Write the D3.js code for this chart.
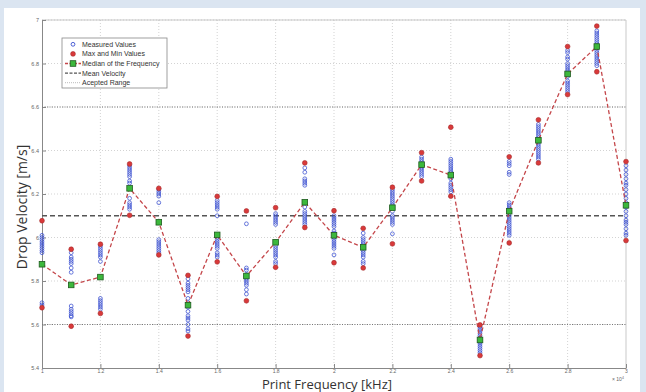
<!DOCTYPE html>
<html>
<head>
<meta charset="utf-8">
<script src="https://cdn.jsdelivr.net/npm/d3@7"></script>
<style>
  body { margin: 0; background: #dbe5f1; }
  svg { display: block; font-family: "Liberation Sans", Arial, sans-serif; }
  .tick text { fill: #666; font-size: 5.5px; }
  .axis path, .axis line { stroke: #888; }
  .axis--x .tick text { font-size: 5px; }
</style>
</head>
<body>
<svg width="646" height="392"></svg>
<script>
// frequency in units of 1e4 Hz
var frequencies = [1.0, 1.1, 1.2, 1.3, 1.4, 1.5, 1.6, 1.7, 1.8, 1.9, 2.0, 2.1, 2.2, 2.3, 2.4, 2.5, 2.6, 2.7, 2.8, 2.9, 3.0];
var medians = [5.877, 5.782, 5.818, 6.226, 6.07, 5.689, 6.012, 5.823, 5.978, 6.162, 6.01, 5.955, 6.137, 6.335, 6.287, 5.529, 6.121, 6.447, 6.752, 6.878, 6.148];
var maxValues = [6.077, 5.946, 5.969, 6.338, 6.226, 5.826, 6.189, 6.122, 6.137, 6.343, 6.123, 6.042, 6.231, 6.39, 6.507, 5.598, 6.371, 6.541, 6.878, 6.972, 6.349];
var minValues = [5.677, 5.592, 5.651, 6.102, 5.92, 5.547, 5.888, 5.709, 5.863, 6.046, 5.884, 5.86, 5.971, 6.26, 6.19, 5.457, 5.975, 6.343, 6.657, 6.762, 5.986];
var measured = [
  [6.01, 6.0, 5.99, 5.98, 5.97, 5.96, 5.95, 5.94, 5.93, 5.70, 5.69],
  [5.93, 5.91, 5.9, 5.89, 5.88, 5.86, 5.84, 5.685, 5.67, 5.66, 5.65, 5.64, 5.635],
  [5.96, 5.95, 5.94, 5.93, 5.92, 5.91, 5.89, 5.72, 5.71, 5.70, 5.69, 5.68, 5.67],
  [6.33, 6.32, 6.31, 6.30, 6.29, 6.28, 6.26, 6.25, 6.18, 6.16, 6.15, 6.14, 6.13],
  [6.22, 6.21, 6.20, 6.19, 6.16, 5.99, 5.98, 5.97, 5.96, 5.95, 5.94, 5.93],
  [5.81, 5.79, 5.78, 5.77, 5.76, 5.75, 5.72, 5.70, 5.68, 5.66, 5.64, 5.63, 5.62, 5.60, 5.58, 5.57],
  [6.17, 6.16, 6.15, 6.14, 6.13, 6.10, 6.0, 5.99, 5.98, 5.97, 5.96, 5.95, 5.93, 5.92, 5.91],
  [6.063, 5.86, 5.85, 5.83, 5.82, 5.81, 5.80, 5.79, 5.78, 5.76, 5.74],
  [6.11, 6.10, 6.09, 6.08, 6.07, 6.06, 5.96, 5.95, 5.94, 5.93, 5.92, 5.91, 5.89, 5.88],
  [6.32, 6.30, 6.27, 6.26, 6.25, 6.24, 6.14, 6.12, 6.11, 6.10, 6.09, 6.08, 6.07, 6.06],
  [6.10, 6.09, 6.08, 6.07, 6.06, 6.05, 6.03, 6.02, 6.0, 5.99, 5.98, 5.97, 5.96, 5.95, 5.92],
  [6.02, 6.0, 5.99, 5.98, 5.97, 5.95, 5.94, 5.93, 5.92, 5.91, 5.89, 5.88],
  [6.22, 6.21, 6.20, 6.19, 6.18, 6.17, 6.16, 6.15, 6.12, 6.10, 6.09, 6.08, 6.07, 6.06, 6.017],
  [6.37, 6.36, 6.35, 6.34, 6.33, 6.32, 6.31, 6.30, 6.29, 6.28],
  [6.36, 6.35, 6.34, 6.33, 6.32, 6.31, 6.30, 6.28, 6.27, 6.25, 6.24, 6.23, 6.22, 6.21],
  [5.59, 5.58, 5.57, 5.56, 5.55, 5.54, 5.53, 5.52, 5.51, 5.50, 5.49, 5.48, 5.47],
  [6.35, 6.34, 6.33, 6.30, 6.29, 6.16, 6.15, 6.14, 6.13, 6.12, 6.10, 6.09, 6.08, 6.07, 6.06, 6.05, 6.04, 6.03, 6.02, 6.01],
  [6.52, 6.51, 6.50, 6.49, 6.48, 6.47, 6.46, 6.45, 6.44, 6.43, 6.42, 6.41, 6.40, 6.39, 6.38, 6.37, 6.36],
  [6.86, 6.85, 6.83, 6.82, 6.80, 6.79, 6.78, 6.77, 6.76, 6.75, 6.74, 6.72, 6.71, 6.70, 6.69, 6.68, 6.67],
  [6.95, 6.94, 6.93, 6.92, 6.91, 6.90, 6.89, 6.88, 6.87, 6.86, 6.85, 6.84, 6.83, 6.82, 6.81, 6.80, 6.79],
  [6.33, 6.31, 6.29, 6.27, 6.25, 6.24, 6.22, 6.20, 6.18, 6.16, 6.14, 6.12, 6.10, 6.08, 6.07, 6.06, 6.04, 6.02, 6.01]
];
var meanVelocity = 6.1;
var acceptedRange = [5.6, 6.6];
var xTicks = [1, 1.2, 1.4, 1.6, 1.8, 2, 2.2, 2.4, 2.6, 2.8, 3];
var yTicks = [5.4, 5.6, 5.8, 6, 6.2, 6.4, 6.6, 6.8, 7];
var legendLabels = ["Measured Values", "Max and Min Values", "Median of the Frequency", "Mean Velocity", "Acepted Range"];

var svg = d3.select("svg");

// white panel
svg.append("rect").attr("x", 4).attr("y", 8).attr("width", 636).attr("height", 384).attr("fill", "#fff");

var margin = { top: 20, right: 20, bottom: 24, left: 42 },
  width = 626 - margin.left,
  height = 368 - margin.top;

var g = svg.append("g").attr("transform", "translate(" + margin.left + "," + margin.top + ")");

var x = d3.scaleLinear().domain([1, 3]).range([0, width]);
var y = d3.scaleLinear().domain([5.4, 7]).range([height, 0]);

// grid
g.append("g").selectAll("line").data(xTicks.slice(1, -1)).enter().append("line")
  .attr("x1", d => x(d)).attr("x2", d => x(d)).attr("y1", 0).attr("y2", height)
  .attr("stroke", "#c8c8c8").attr("stroke-width", 0.8).attr("stroke-dasharray", "1,2");
g.append("g").selectAll("line").data(yTicks.slice(1)).enter().append("line")
  .attr("x1", 0).attr("x2", width).attr("y1", d => y(d)).attr("y2", d => y(d))
  .attr("stroke", "#c8c8c8").attr("stroke-width", 0.8).attr("stroke-dasharray", "1,2");

// box top/right
g.append("line").attr("x1", 0).attr("x2", width).attr("y1", 0).attr("y2", 0).attr("stroke", "#bbb").attr("stroke-width", 0.8);
g.append("line").attr("x1", width).attr("x2", width).attr("y1", 0).attr("y2", height).attr("stroke", "#bbb").attr("stroke-width", 0.8);

// axes
g.append("g").attr("class", "axis axis--x")
  .attr("transform", "translate(0," + height + ")")
  .call(d3.axisBottom(x).tickValues(xTicks).tickFormat(d3.format("~g")).tickSizeInner(-4).tickSizeOuter(0).tickPadding(1));
g.append("g").attr("class", "axis axis--y")
  .call(d3.axisLeft(y).tickValues(yTicks).tickFormat(d3.format("~g")).tickSizeInner(-4).tickSizeOuter(0).tickPadding(3));

// accepted range
g.append("g").selectAll("line").data(acceptedRange).enter().append("line")
  .attr("x1", 0).attr("x2", width).attr("y1", d => y(d)).attr("y2", d => y(d))
  .attr("stroke", "#777").attr("stroke-width", 1).attr("stroke-dasharray", "1,1.5");

// mean velocity
g.append("line")
  .attr("x1", x(1)).attr("x2", x(3)).attr("y1", y(meanVelocity)).attr("y2", y(meanVelocity))
  .attr("stroke", "#555").attr("stroke-width", 1.6).attr("stroke-dasharray", "5,3");

// measured values
var pts = [];
measured.forEach((arr, i) => arr.forEach(v => pts.push({ f: frequencies[i], v: v })));
g.append("g").selectAll("circle").data(pts).enter().append("circle")
  .attr("cx", d => x(d.f)).attr("cy", d => y(d.v)).attr("r", 1.9)
  .attr("fill", "none").attr("stroke", "#3a4fd0").attr("stroke-width", 0.9).attr("stroke-opacity", 0.85);

// max/min
var extremes = [];
frequencies.forEach((f, i) => { extremes.push({ f: f, v: maxValues[i] }); extremes.push({ f: f, v: minValues[i] }); });
g.append("g").selectAll("circle").data(extremes).enter().append("circle")
  .attr("cx", d => x(d.f)).attr("cy", d => y(d.v)).attr("r", 2.4)
  .attr("fill", "#d9393a").attr("stroke", "#a52a2a").attr("stroke-width", 0.6);

// median line
var line = d3.line().x((d, i) => x(frequencies[i])).y(d => y(d));
g.append("path").datum(medians)
  .attr("d", line).attr("fill", "none")
  .attr("stroke", "#c4464a").attr("stroke-width", 1.3).attr("stroke-dasharray", "4,2.5");

g.append("g").selectAll("rect").data(medians).enter().append("rect")
  .attr("x", (d, i) => x(frequencies[i]) - 2.8).attr("y", d => y(d) - 2.8)
  .attr("width", 5.6).attr("height", 5.6)
  .attr("fill", "#3cb83c").attr("stroke", "#1f5a1f").attr("stroke-width", 0.8);

// axis labels
svg.append("text").attr("transform", "translate(27,207) rotate(-90)")
  .attr("text-anchor", "middle").attr("font-family", "Open Sans, sans-serif")
  .attr("font-size", 14).attr("fill", "#333").text("Drop Velocity [m/s]");
svg.append("text").attr("x", 327).attr("y", 388.5)
  .attr("text-anchor", "middle").attr("font-family", "Open Sans, sans-serif")
  .attr("font-size", 13).attr("fill", "#333").text("Print Frequency [kHz]");
var exp = svg.append("text").attr("x", 612).attr("y", 381).attr("font-size", 5).attr("fill", "#666");
exp.append("tspan").text("× 10");
exp.append("tspan").attr("dy", -2).attr("font-size", 3.5).text("4");

// legend
var lg = svg.append("g").attr("transform", "translate(62,38)");
lg.append("rect").attr("width", 105).attr("height", 50).attr("fill", "#fff").attr("stroke", "#888").attr("stroke-width", 0.8);
var rows = lg.selectAll("g.row").data(legendLabels).enter().append("g")
  .attr("transform", (d, i) => "translate(0," + (6.3 + i * 9.6) + ")");
rows.append("text").attr("x", 20).attr("y", 2.5).attr("font-size", 7).attr("fill", "#333").text(d => d);
rows.filter((d, i) => i === 0).append("circle").attr("cx", 11).attr("cy", 0).attr("r", 1.9)
  .attr("fill", "none").attr("stroke", "#3a4fd0").attr("stroke-width", 0.9);
rows.filter((d, i) => i === 1).append("circle").attr("cx", 11).attr("cy", 0).attr("r", 2.4)
  .attr("fill", "#d9393a").attr("stroke", "#a52a2a").attr("stroke-width", 0.6);
var medRow = rows.filter((d, i) => i === 2);
medRow.append("line").attr("x1", 3).attr("x2", 19).attr("stroke", "#c4464a").attr("stroke-width", 1.3).attr("stroke-dasharray", "3,1.5");
medRow.append("rect").attr("x", 8.2).attr("y", -2.8).attr("width", 5.6).attr("height", 5.6)
  .attr("fill", "#3cb83c").attr("stroke", "#1f5a1f").attr("stroke-width", 0.8);
rows.filter((d, i) => i === 3).append("line").attr("x1", 3).attr("x2", 19)
  .attr("stroke", "#555").attr("stroke-width", 1.2).attr("stroke-dasharray", "3,1.5");
rows.filter((d, i) => i === 4).append("line").attr("x1", 3).attr("x2", 19)
  .attr("stroke", "#aaa").attr("stroke-width", 0.8).attr("stroke-dasharray", "1,1");
</script>
</body>
</html>
